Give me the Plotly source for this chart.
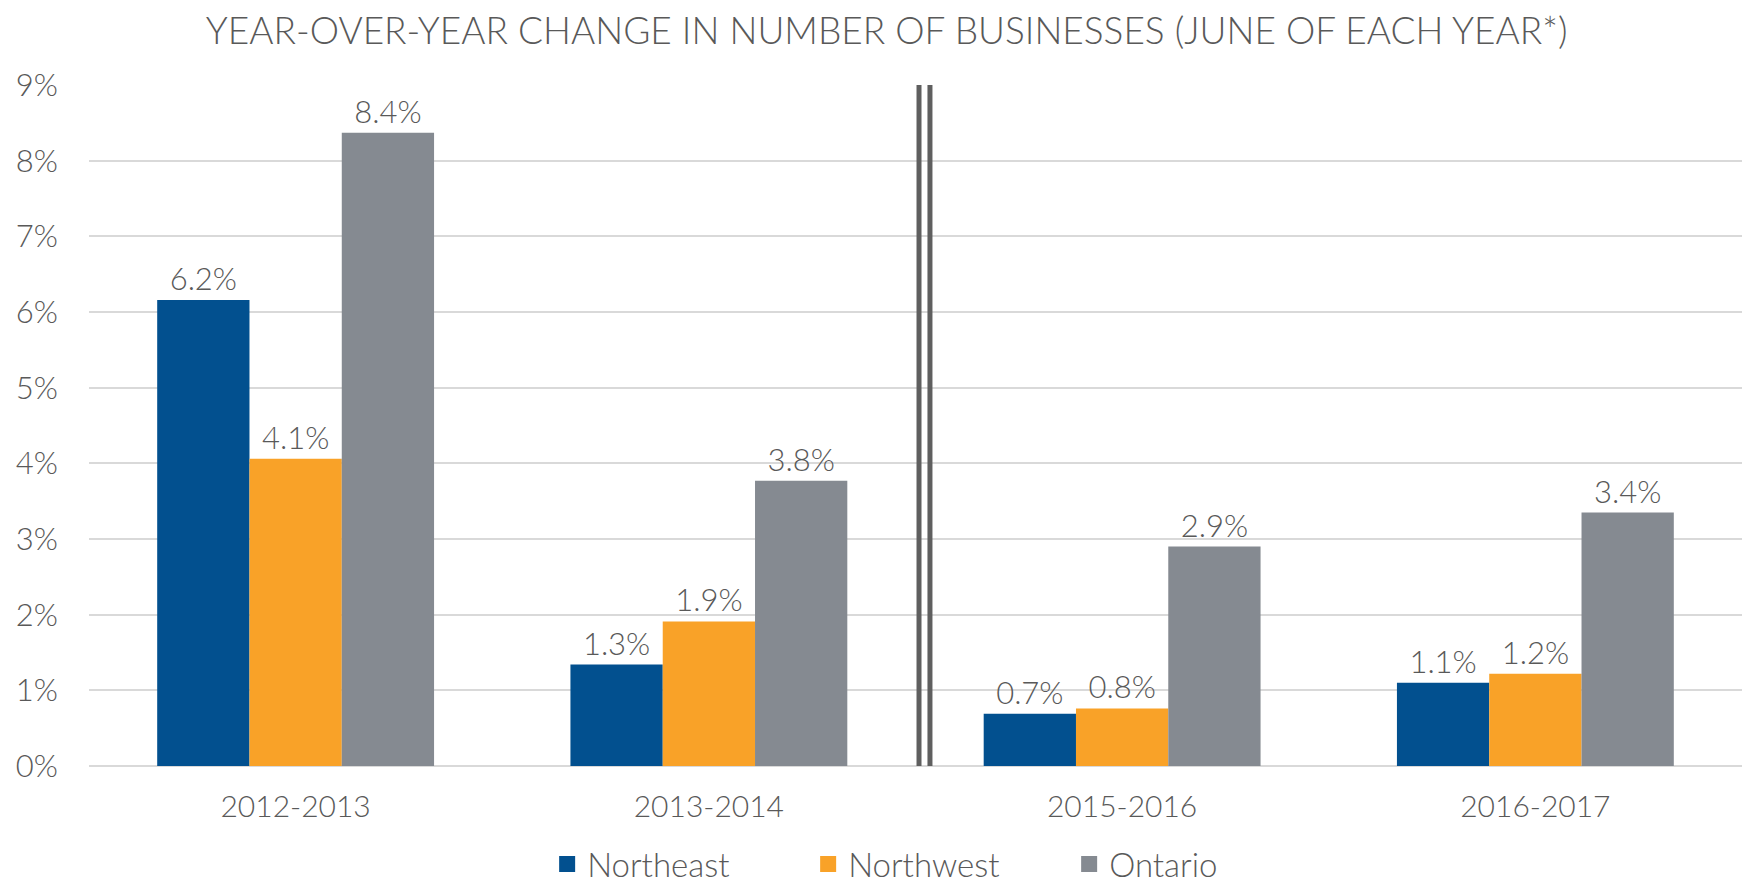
import plotly.graph_objects as go

categories = ["2012-2013", "2013-2014", "2015-2016", "2016-2017"]
northeast = [6.16, 1.34, 0.69, 1.10]
northwest = [4.06, 1.91, 0.76, 1.22]
ontario = [8.37, 3.77, 2.90, 3.35]
series_names = ["Northeast", "Northwest", "Ontario"]
colors = ["#02508F", "#F9A228", "#858A91"]
tick_vals = [0, 1, 2, 3, 4, 5, 6, 7, 8, 9]
tick_text = [f"{v}%" for v in tick_vals]

FONT = "Lato"
TXT = "#595959"
W = 300

fig = go.Figure()
for name, vals, col in zip(series_names, [northeast, northwest, ontario], colors):
    fig.add_trace(go.Bar(
        x=categories, y=vals, name=name, showlegend=False,
        marker=dict(color=col, line=dict(width=0)),
        text=[f"{v:.1f}%" for v in vals],
        textposition="outside",
        textfont=dict(family=FONT, size=31, color=TXT, weight=W),
        cliponaxis=False,
    ))
    # legend entry with a larger square symbol
    fig.add_trace(go.Scatter(
        x=[None], y=[None], name=name, mode="markers",
        marker=dict(symbol="square", size=16, color=col),
        showlegend=True,
    ))

# double separator line between the two periods
for xpos in [1.5085, 1.535]:
    fig.add_shape(type="line", xref="x", yref="y", x0=xpos, x1=xpos, y0=0, y1=9,
                  line=dict(color="#5F5F5F", width=5))

fig.update_layout(
    width=1742, height=885,
    barmode="group", bargap=0.33, bargroupgap=0,
    plot_bgcolor="white", paper_bgcolor="white",
    margin=dict(l=89, r=0, t=85, b=119),
    title=dict(text="YEAR-OVER-YEAR CHANGE IN NUMBER OF BUSINESSES (JUNE OF EACH YEAR*)",
               xref="container", x=0.509, xanchor="center",
               yref="container", y=1 - 31 / 885, yanchor="middle",
               font=dict(family=FONT, size=37, color=TXT, weight=W)),
    font=dict(family=FONT, color=TXT),
    xaxis=dict(showgrid=False, showline=False, ticks="", ticklabelstandoff=20,
               tickfont=dict(family=FONT, size=30, color=TXT, weight=W)),
    yaxis=dict(range=[0, 9], tickvals=tick_vals, ticktext=tick_text,
               showgrid=True, gridcolor="#D9D9D9", gridwidth=2,
               zeroline=True, zerolinecolor="#D9D9D9", zerolinewidth=2,
               showline=False, ticks="", ticklabelstandoff=30,
               tickfont=dict(family=FONT, size=31, color=TXT, weight=W)),
    legend=dict(orientation="h", x=0.514, xanchor="center",
                yref="container", y=(885 - 864) / 885, yanchor="middle",
                font=dict(family=FONT, size=33, color=TXT, weight=W),
                entrywidth=216, itemwidth=30),
    showlegend=True,
)

fig.write_html(
    "out.html",
    config={"displayModeBar": False},
    post_script="document.body.style.margin='0';document.documentElement.style.overflow='hidden';",
)
